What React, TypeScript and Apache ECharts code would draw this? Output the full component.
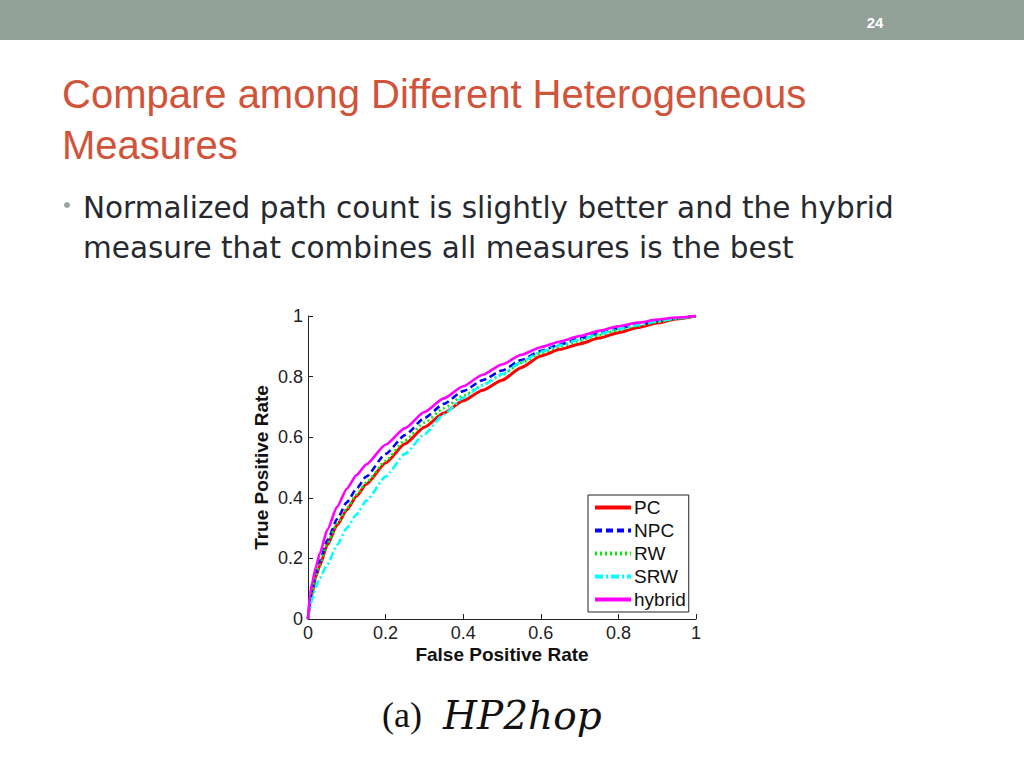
import React, { useEffect, useRef } from "react";
import * as echarts from "echarts";

const fpr = [0, 0.005, 0.01, 0.02, 0.03, 0.05, 0.075, 0.1, 0.125, 0.15, 0.2, 0.25, 0.3, 0.35, 0.4, 0.45, 0.5, 0.55, 0.6, 0.65, 0.7, 0.75, 0.8, 0.85, 0.9, 0.95, 1];
const pc = [0, 0.05, 0.08, 0.14, 0.175, 0.245, 0.31, 0.36, 0.405, 0.445, 0.515, 0.578, 0.633, 0.68, 0.72, 0.755, 0.788, 0.83, 0.868, 0.89, 0.908, 0.927, 0.945, 0.962, 0.977, 0.99, 1];
const npc = [0, 0.06, 0.09, 0.15, 0.19, 0.26, 0.33, 0.385, 0.43, 0.47, 0.545, 0.607, 0.663, 0.71, 0.752, 0.788, 0.82, 0.855, 0.885, 0.906, 0.925, 0.943, 0.958, 0.972, 0.984, 0.993, 1];
const rw = [0, 0.055, 0.085, 0.145, 0.18, 0.25, 0.315, 0.365, 0.41, 0.45, 0.522, 0.59, 0.648, 0.695, 0.737, 0.772, 0.806, 0.845, 0.878, 0.9, 0.918, 0.937, 0.954, 0.968, 0.98, 0.991, 1];
const srw = [0, 0.03, 0.06, 0.105, 0.135, 0.18, 0.245, 0.3, 0.345, 0.39, 0.47, 0.545, 0.61, 0.675, 0.73, 0.772, 0.808, 0.848, 0.882, 0.904, 0.922, 0.94, 0.957, 0.97, 0.982, 0.992, 1];
const hybrid = [0, 0.08, 0.115, 0.17, 0.215, 0.295, 0.37, 0.43, 0.475, 0.51, 0.575, 0.63, 0.683, 0.728, 0.768, 0.806, 0.84, 0.872, 0.897, 0.916, 0.934, 0.951, 0.966, 0.978, 0.988, 0.995, 1];

const seriesNames = ["PC", "NPC", "RW", "SRW", "hybrid"];
const seriesValues = [pc, npc, rw, srw, hybrid];
const seriesColors = ["#ff0000", "#0000ff", "#00ee00", "#00ffff", "#ff00ff"];
const seriesTypes: any[] = ["solid", [7, 4], [2, 3], [8, 3, 2, 3], "solid"];
const tickLabels = ["0", "0.2", "0.4", "0.6", "0.8", "1"];

const slideTitle = ["Compare among Different Heterogeneous", "Measures"];
const bulletLines = ["Normalized path count is slightly better and the hybrid", "measure that combines all measures is the best"];

export default function App() {
  const ref = useRef<HTMLDivElement>(null);
  useEffect(() => {
    document.body.style.margin = "0";
    const chart = echarts.init(ref.current!, null, { renderer: "svg" });
    const fmt = (v: number) => {
      const i = Math.round(v * 5);
      return tickLabels[i] ?? String(v);
    };
    const axisCommon = {
      min: 0,
      max: 1,
      interval: 0.2,
      axisLine: { show: true, lineStyle: { color: "#222", width: 1 } },
      axisTick: { show: true, inside: true, length: 5, lineStyle: { color: "#222" } },
      splitLine: { show: false },
      axisLabel: { color: "#222", fontSize: 18, fontFamily: "Liberation Sans", formatter: fmt },
      nameTextStyle: { color: "#111", fontSize: 19, fontWeight: "bold", fontFamily: "Liberation Sans" },
    };
    chart.setOption({
      animation: false,
      backgroundColor: "#ffffff",
      grid: { left: 308, top: 316, width: 388, height: 303, containLabel: false },
      xAxis: {
        type: "value",
        ...axisCommon,
        name: "False Positive Rate",
        nameLocation: "middle",
        nameGap: 26,
        axisLabel: { ...axisCommon.axisLabel, margin: 5 },
      },
      yAxis: {
        type: "value",
        ...axisCommon,
        name: "True Positive Rate",
        nameLocation: "middle",
        nameGap: 37,
        axisLabel: { ...axisCommon.axisLabel, margin: 5 },
      },
      legend: {
        orient: "vertical",
        left: 588,
        top: 495,
        data: seriesNames,
        itemWidth: 36,
        itemHeight: 14,
        itemGap: 4,
        padding: [3, 3, 3, 5],
        borderColor: "#222",
        borderWidth: 1,
        backgroundColor: "#fff",
        itemStyle: { opacity: 0, color: "transparent", borderWidth: 0 },
        lineStyle: { width: 4 },
        textStyle: { color: "#111", fontSize: 19, fontFamily: "Liberation Sans", padding: [0, 0, 0, -2] },
      },
      series: seriesNames.map((name, i) => ({
        name,
        type: "line",
        data: fpr.map((x, j) => [x, seriesValues[i][j]]),
        showSymbol: false,
        symbol: "none",
        smooth: 0.2,
        smoothMonotone: "x",
        lineStyle: { color: seriesColors[i], width: i === 0 ? 3 : 2.6, type: seriesTypes[i] },
        itemStyle: { color: seriesColors[i] },
        z: 2 + i,
      })),
      graphic: [
        { type: "rect", shape: { x: 0, y: 0, width: 1024, height: 40 }, style: { fill: "#93a299" } },
        {
          type: "text",
          x: 875,
          y: 22,
          style: { text: "24", fill: "#fff", font: "bold 15px 'Liberation Sans'", align: "center", verticalAlign: "middle" },
        },
        ...slideTitle.map((t, i) => ({
          type: "text",
          x: 62,
          y: 94 + i * 51,
          style: { text: t, fill: "#d0533a", font: "40px 'Liberation Sans'", align: "left", verticalAlign: "middle" },
        })),
        { type: "circle", shape: { cx: 67, cy: 205, r: 3 }, style: { fill: "#9aa39c" } },
        ...bulletLines.map((t, i) => ({
          type: "text",
          x: 83,
          y: 208 + i * 40,
          style: { text: t, fill: "#262a30", font: "29.5px 'DejaVu Sans'", align: "left", verticalAlign: "middle" },
        })),
        {
          type: "text",
          x: 382,
          y: 715,
          style: { text: "(a)", fill: "#111", font: "36px 'Liberation Serif'", align: "left", verticalAlign: "middle" },
        },
        {
          type: "text",
          x: 443,
          y: 715,
          style: { text: "HP2hop", fill: "#111", font: "italic 39px 'DejaVu Serif'", align: "left", verticalAlign: "middle" },
        },
      ],
    });
    return () => chart.dispose();
  }, []);
  return <div ref={ref} style={{ width: 1024, height: 768 }} />;
}
